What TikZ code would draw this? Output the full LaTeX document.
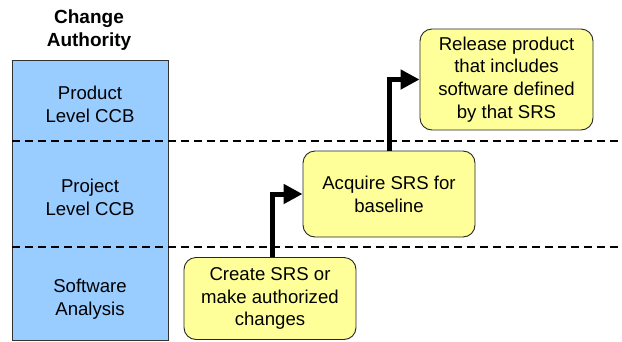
\documentclass[tikz,border=0pt]{standalone}
\usepackage{fontspec}
\setmainfont{Liberation Sans}
\usetikzlibrary{arrows.meta}
\definecolor{laneblue}{HTML}{99CCFF}
\definecolor{stepyellow}{HTML}{FFFF99}
\begin{document}
\begin{tikzpicture}[x=1pt,y=-1pt,
  every node/.style={font=\fontsize{18.6}{22.8}\selectfont, align=center, inner sep=0pt},
  stepbox/.style={draw=black!85, line width=0.9pt, fill=stepyellow, rounded corners=12pt},
  lanesep/.style={line width=1.8pt, dash pattern=on 8pt off 5pt},
  flow/.style={line width=5pt, -{Triangle[length=19pt,width=19pt]}}
]
\useasboundingbox (0,0) rectangle (622,341);

% authority column
\path[fill=laneblue, draw=black!80, line width=1pt] (12,60) rectangle (168,340);
\node[font=\fontsize{19}{23}\selectfont\bfseries] (title) at (89,30) {Change\\Authority};
\node (prod) at (90,104) {Product\\Level CCB};
\node (proj) at (90,197) {Project\\Level CCB};
\node (sw) at (90,299) {Software\\Analysis};

% lane separators
\coordinate (s1a) at (12,141); \coordinate (s1b) at (622,141);
\coordinate (s2a) at (12,247); \coordinate (s2b) at (622,247);
\draw[lanesep] (s1a) -- (s1b);
\draw[lanesep] (s2a) -- (s2b);

% steps
\node[stepbox, minimum width=172pt, minimum height=82pt] (create) at (270,298.5)
  {Create SRS or\\make authorized\\changes};
\node[stepbox, minimum width=172pt, minimum height=86pt] (acquire) at (389,194)
  {Acquire SRS for\\baseline};
\node[stepbox, minimum width=173pt, minimum height=101pt] (release) at (506.5,79.5)
  {Release product\\that includes\\software defined\\by that SRS};

% flow
\draw[flow] ([xshift=2pt]create.north) |- (acquire.west);
\draw[flow] (acquire.north) |- (release.west);
\end{tikzpicture}
\end{document}
